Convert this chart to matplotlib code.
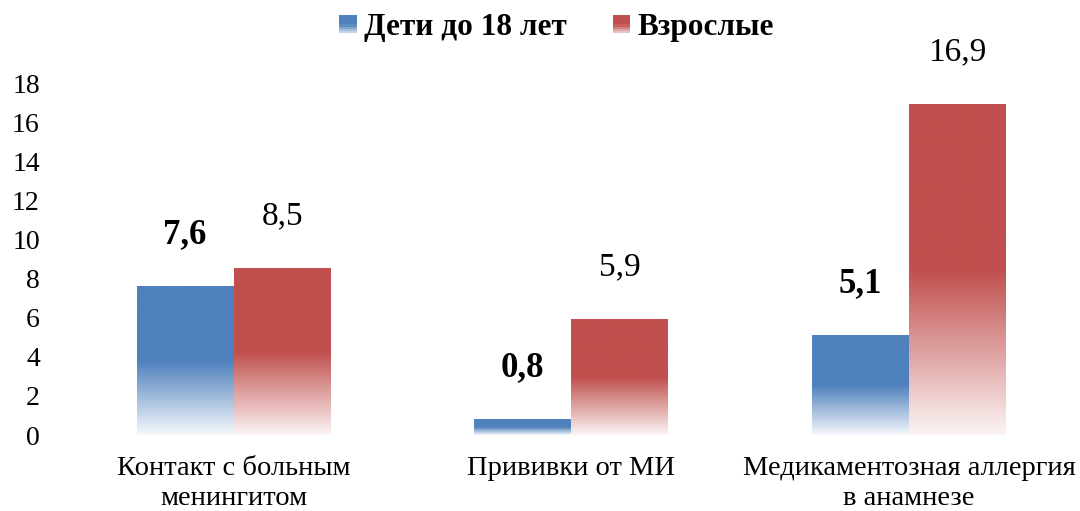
import numpy as np
import matplotlib
matplotlib.use('Agg')
import matplotlib.pyplot as plt
from matplotlib.legend_handler import HandlerBase
from matplotlib.patches import Rectangle
from matplotlib.colors import to_rgb

plt.rcParams['font.family'] = ['Liberation Serif', 'DejaVu Serif']

categories = ['Контакт с больным\nменингитом', 'Прививки от МИ', 'Медикаментозная аллергия\nв анамнезе']
series = ['Дети до 18 лет', 'Взрослые']
children = [7.6, 0.8, 5.1]
adults = [8.5, 5.9, 16.9]
labels_children = ['7,6', '0,8', '5,1']
labels_adults = ['8,5', '5,9', '16,9']

blue = '#4F81BD'
red = '#C0504D'


def gradient_rgb(color, n=200):
    # снизу почти белый, с середины столбика сплошной цвет
    c = np.array(to_rgb(color))
    t = np.linspace(0, 1, n)
    m = np.clip(t / 0.5, 0, 1)
    m = 0.06 + 0.94 * m
    rows = (1 - m)[:, None] * np.ones(3) + m[:, None] * c
    return rows[::-1][:, None, :]


def fill_gradient(ax, bars, color):
    img = gradient_rgb(color)
    for b in bars:
        x0 = b.get_x()
        w = b.get_width()
        h = b.get_height()
        ax.imshow(img, extent=(x0, x0 + w, 0, h), aspect='auto', zorder=2, interpolation='bilinear')
        b.set_visible(False)


class GradientHandler(HandlerBase):
    def create_artists(self, legend, orig_handle, xdescent, ydescent, width, height, fontsize, trans):
        c = np.array(to_rgb(orig_handle.get_facecolor()))
        side = height
        x = -xdescent + (width - side) / 2
        y = -ydescent
        n = 8
        arts = []
        for i in range(n):
            t = (i + 0.5) / n
            m = 0.25 + 0.75 * min(t / 0.5, 1)
            col = (1 - m) * np.ones(3) + m * c
            r = Rectangle((x, y + side * i / n), side, side / n, facecolor=col, edgecolor='none', transform=trans)
            arts.append(r)
        return arts


fig = plt.figure(figsize=(10.8, 5.11), dpi=100)
ax = fig.add_axes([0.060, 0.1487, 0.938, 0.6888])

x = np.arange(len(categories))
w = 0.287
b1 = ax.bar(x - w / 2, children, w, color=blue)
b2 = ax.bar(x + w / 2, adults, w, color=red)
fill_gradient(ax, b1, blue)
fill_gradient(ax, b2, red)

for bar, txt in zip(b1, labels_children):
    ax.annotate(txt, (bar.get_x() + bar.get_width() / 2, bar.get_height()), xytext=(0, 37),
                textcoords='offset points', ha='center', va='center', fontsize=25, fontweight='bold')
for bar, txt in zip(b2, labels_adults):
    ax.annotate(txt, (bar.get_x() + bar.get_width() / 2, bar.get_height()), xytext=(0, 38),
                textcoords='offset points', ha='center', va='center', fontsize=24)

ax.set_xlim(-0.5, 2.5)
ax.set_ylim(0, 18)
ax.set_yticks(range(0, 19, 2))
ax.set_xticks(x)
ax.set_xticklabels(categories, fontsize=20.5, linespacing=1.25)
ax.tick_params(axis='y', length=0, pad=18, labelsize=20)
ax.tick_params(axis='x', length=0, pad=15)
for s in ax.spines.values():
    s.set_visible(False)

handles = [Rectangle((0, 0), 1, 1, facecolor=blue), Rectangle((0, 0), 1, 1, facecolor=red)]
fig.legend(handles, series, loc='center', bbox_to_anchor=(557 / 1080, 1 - 28 / 511), ncol=2,
           frameon=False, prop={'size': 22.5, 'weight': 'bold'}, handler_map={Rectangle: GradientHandler()},
           handlelength=0.5, handleheight=0.5, handletextpad=0.25, columnspacing=1.5)

fig.savefig('out.png', dpi=100)
